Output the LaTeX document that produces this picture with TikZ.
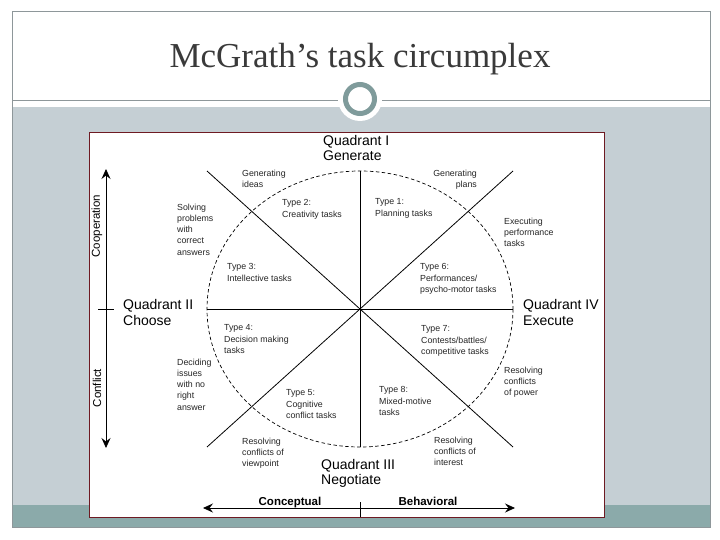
\documentclass[tikz,border=0pt]{standalone}
\usepackage{fontspec}
\setmainfont{Liberation Sans}
\newfontfamily\titlefont{Liberation Serif}
\usetikzlibrary{arrows.meta}
\definecolor{bandgray}{HTML}{C5CFD4}
\definecolor{bandteal}{HTML}{8BAAAA}
\definecolor{framegray}{HTML}{8E979A}
\definecolor{ringcol}{HTML}{7F9B9B}
\definecolor{boxred}{HTML}{6E1A22}
\definecolor{titlecol}{HTML}{3A3A3A}
\begin{document}
\begin{tikzpicture}[x=1pt,y=-1pt,
  axisline/.style={black, line width=0.8pt},
  circ/.style={black, line width=0.7pt, dash pattern=on 3.5pt off 2.5pt},
  axarrow/.style={black, line width=0.8pt, -{Stealth[length=10pt,width=9pt,inset=3.5pt]}},
  small/.style={font=\fontsize{8.8}{11.3}\selectfont, inner sep=0pt, align=left, anchor=north west, text=black!85},
  quad/.style={font=\fontsize{14}{15.5}\selectfont, inner sep=0pt, align=left, anchor=north west},
  sidelab/.style={font=\fontsize{11.5}{13}\selectfont, inner sep=0pt, rotate=90},
  botlab/.style={font=\bfseries\fontsize{11.5}{13}\selectfont, inner sep=0pt, anchor=base}
]
\useasboundingbox (0,0) rectangle (720,540);
% slide background
\fill[white] (0,0) rectangle (720,540);
\fill[bandgray] (12,107) rectangle (710,505);
\fill[bandteal] (12,505) rectangle (710,527);
\draw[framegray, line width=1pt] (12,12) rectangle (710,527);
\draw[framegray, line width=1pt] (12,101) -- (710,101);
\fill[white] (360,99) circle (22);
\draw[ringcol, line width=5pt] (360,99) circle (14.5);
\node[font=\titlefont\fontsize{35}{40}\selectfont, text=titlecol, anchor=base, inner sep=0pt] (title) at (360,68) {McGrath’s task circumplex};
% diagram box
\draw[boxred, fill=white, line width=0.8pt] (89,132) rectangle (604,517);
% circumplex geometry
\coordinate (O) at (360,309);
\coordinate (N) at (360,171);
\coordinate (S) at (360,447);
\coordinate (W) at (207,309);
\coordinate (E) at (513,309);
\coordinate (NW) at (207,171);
\coordinate (NE) at (513,171);
\coordinate (SW) at (207,447);
\coordinate (SE) at (513,447);
\draw[axisline] (N) -- (S);
\draw[axisline] (W) -- (E);
\draw[axisline] (NW) -- (SE);
\draw[axisline] (NE) -- (SW);
\draw[circ] (O) ellipse [x radius=153, y radius=138];
% left axis
\coordinate (axMid) at (106,309);
\coordinate (axTop) at (106,169);
\coordinate (axBot) at (106,448);
\coordinate (tickL) at (98,309);
\coordinate (tickR) at (114,309);
\draw[axarrow] (axMid) -- (axTop);
\draw[axarrow] (axMid) -- (axBot);
\draw[axisline] (tickL) -- (tickR);
\node[sidelab] (coop) at (97,226) {Cooperation};
\node[sidelab] (confl) at (97,388) {Conflict};
% bottom axis
\coordinate (bMid) at (360,508);
\coordinate (bL) at (203,508);
\coordinate (bR) at (515,508);
\coordinate (bTickT) at (360,502);
\coordinate (bTickB) at (360,517);
\draw[axarrow] (bMid) -- (bL);
\draw[axarrow] (bMid) -- (bR);
\draw[axisline] (bTickT) -- (bTickB);
\node[botlab] (concept) at (290,505.5) {Conceptual};
\node[botlab] (behav) at (428,505.5) {Behavioral};
% quadrant labels
\node[quad] (q1) at (323,134.8) {Quadrant I\\Generate};
\node[quad] (q2) at (123,299.5) {Quadrant II\\Choose};
\node[quad] (q4) at (523,299.5) {Quadrant IV\\Execute};
\node[quad] (q3) at (321,458.8) {Quadrant III\\Negotiate};
% small labels
\node[small] (genideas) at (242,169.5) {Generating\\ideas};
\node[small] (type2) at (282,199.5) {Type 2:\\Creativity tasks};
\node[small] (solving) at (177,203.5) {Solving\\problems\\with\\correct\\answers};
\node[small] (type3) at (227,263.5) {Type 3:\\Intellective tasks};
\node[small, align=right, anchor=north east] (genplans) at (477,169.5) {Generating\\plans};
\node[small] (type1) at (375,198.5) {Type 1:\\Planning tasks};
\node[small] (executing) at (504,217.5) {Executing\\performance\\tasks};
\node[small] (type6) at (420,263.5) {Type 6:\\Performances/\\psycho-motor tasks};
\node[small] (type4) at (224,324.5) {Type 4:\\Decision making\\tasks};
\node[small] (deciding) at (177,358.5) {Deciding\\issues\\with no\\right\\answer};
\node[small] (type5) at (286,389.5) {Type 5:\\Cognitive\\conflict tasks};
\node[small] (resview) at (242,437.5) {Resolving\\conflicts of\\viewpoint};
\node[small] (type7) at (421,325.5) {Type 7:\\Contests/battles/\\competitive tasks};
\node[small] (respower) at (504,366.5) {Resolving\\conflicts\\of power};
\node[small] (type8) at (379,386.5) {Type 8:\\Mixed-motive\\tasks};
\node[small] (resint) at (434,436.5) {Resolving\\conflicts of\\interest};
\end{tikzpicture}
\end{document}
